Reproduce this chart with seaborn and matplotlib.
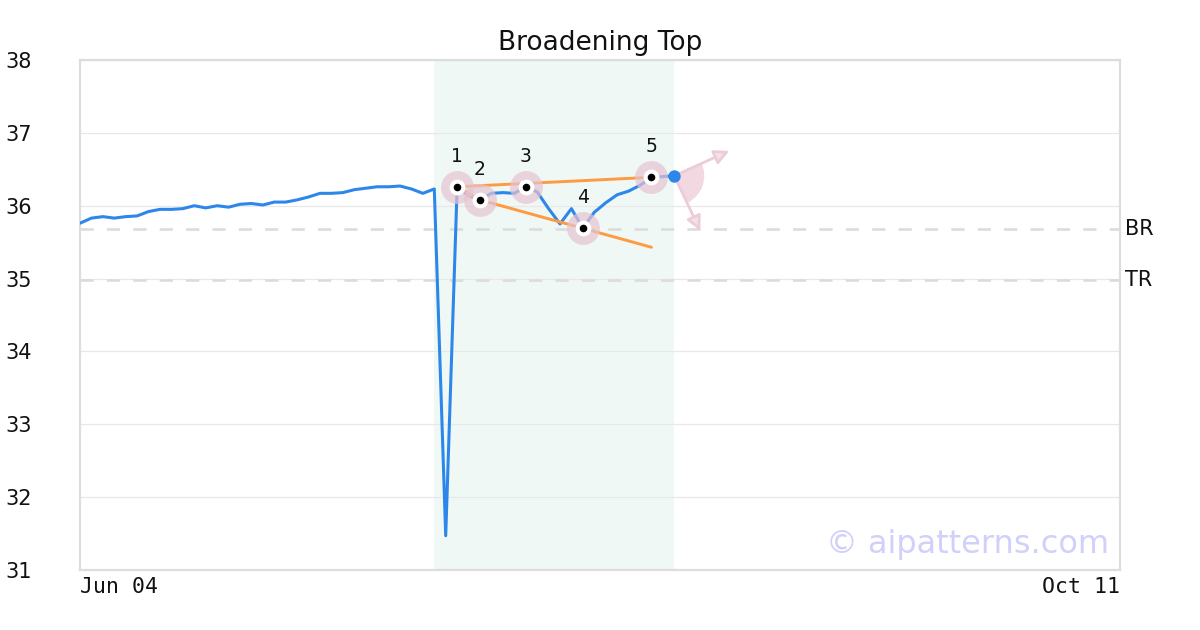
import numpy as np
import pandas as pd
import matplotlib
matplotlib.use("Agg")
import matplotlib.pyplot as plt
import matplotlib.transforms as mtransforms
from matplotlib.patches import Wedge
import seaborn as sns

# ---------------- data ----------------
title = "Broadening Top"
values = [35.76, 35.83, 35.85, 35.83, 35.85, 35.86, 35.92, 35.95, 35.95, 35.96,
          36.00, 35.97, 36.00, 35.98, 36.02, 36.03, 36.01, 36.05, 36.05, 36.08,
          36.12, 36.17, 36.17, 36.18, 36.22, 36.24, 36.26, 36.26, 36.27, 36.23,
          36.17, 36.23, 31.47, 36.26, 36.14, 36.08, 36.17, 36.18, 36.17, 36.26,
          36.19, 35.96, 35.75, 35.96, 35.69, 35.91, 36.04, 36.15, 36.20, 36.28,
          36.39, 36.40, 36.41]
x_tick_pos = [0, 91]
x_tick_labels = ["Jun 04", "Oct 11"]
y_ticks = [31, 32, 33, 34, 35, 36, 37, 38]
pattern_idx = [33, 35, 39, 44, 50]
pattern_labels = ["1", "2", "3", "4", "5"]
shade_start, shade_end = 31, 52
level_values = [35.68, 34.98]
level_labels = ["BR", "TR"]
watermark = "\u00a9 aipatterns.com"

BLUE = "#2d87ea"
ORANGE = "#fd9a42"

sns.set_style("white")
plt.rcParams['font.family'] = ['DejaVu Sans']

fig = plt.figure(figsize=(12, 6.3), dpi=100)
ax = fig.add_axes([80 / 1200, 60 / 630, 1040 / 1200, 510 / 630])

df = pd.DataFrame({"idx": np.arange(len(values)), "value": values})

# shaded pattern region
ax.axvspan(shade_start, shade_end, color="#eff8f5", zorder=0, lw=0)

# grid
ax.set_axisbelow(True)
ax.yaxis.grid(True, color="#e8e8e8", lw=0.9)
ax.xaxis.grid(False)

# level lines
for lv, lab in zip(level_values, level_labels):
    ax.axhline(lv, color="#dcdcdc", lw=1.9, dashes=(5, 5), zorder=1)
    ax.text(1.0048, lv, lab, transform=ax.get_yaxis_transform(), ha="left",
            va="center", fontsize=15, color="#111111")

# main line
sns.lineplot(data=df, x="idx", y="value", ax=ax, color=BLUE, lw=2.2, zorder=4)

# trend lines
i1, i2, i4, i5 = pattern_idx[0], pattern_idx[1], pattern_idx[3], pattern_idx[4]
ax.plot([i1, i5], [values[i1], values[i5]], color=ORANGE, lw=2.1, zorder=5)
slope = (values[i4] - values[i2]) / (i4 - i2)
ax.plot([i1, i2, i5], [values[i1], values[i2], values[i2] + slope * (i5 - i2)],
        color=ORANGE, lw=2.1, zorder=5)

# pattern points
px = [i for i in pattern_idx]
py = [values[i] for i in pattern_idx]
pts = pd.DataFrame({"x": px, "y": py})
sns.scatterplot(data=pts, x="x", y="y", ax=ax, s=560, color="#e6c3d0", alpha=0.7,
                linewidth=0, zorder=6, legend=False)
sns.scatterplot(data=pts, x="x", y="y", ax=ax, s=130, color="white",
                linewidth=0, zorder=7, legend=False)
sns.scatterplot(data=pts, x="x", y="y", ax=ax, s=30, color="black",
                linewidth=0, zorder=8, legend=False)
for xx, yy, lab in zip(px, py, pattern_labels):
    ax.annotate(lab, xy=(xx, yy), xytext=(0, 22), textcoords="offset points",
                ha="center", va="center", fontsize=13.5, color="#111111", zorder=9)

# last point
last_x = len(values) - 1
last_y = values[-1]
ax.scatter([last_x], [last_y], s=80, color=BLUE, zorder=8, linewidths=0)

# direction wedge + arrows
trans = fig.dpi_scale_trans + mtransforms.ScaledTranslation(last_x, last_y, ax.transData)
ax.add_patch(Wedge((0, 0), 0.30, -64.7, 24.4, transform=trans,
                   facecolor="#f0d4de", edgecolor="none", zorder=3, alpha=0.9))
for tip in [(0.55, 0.25), (0.26, -0.55)]:
    ax.annotate("", xy=tip, xycoords=trans, xytext=(0, 0), textcoords=trans,
                arrowprops=dict(arrowstyle="-|>", ec="#ecccd8", fc="#f4e0e7",
                                lw=2, mutation_scale=22, shrinkA=0, shrinkB=0),
                zorder=3)

# watermark
ax.text(0.990, 0.033, watermark, transform=ax.transAxes, ha="right",
        va="baseline", fontsize=23, color="#d0d0fa", zorder=2)

# axes styling
ax.set_xlim(0, 91)
ax.set_ylim(31, 38)
ax.set_xlabel("")
ax.set_ylabel("")
ax.set_yticks(y_ticks)
ax.set_yticklabels([str(v) for v in y_ticks])
ax.tick_params(axis="y", length=0, pad=53.5, labelsize=15, labelcolor="#111111")
for lab in ax.get_yticklabels():
    lab.set_horizontalalignment("left")
ax.set_xticks(x_tick_pos)
ax.set_xticklabels(x_tick_labels)
ax.tick_params(axis="x", length=0, pad=5, labelsize=15.5, labelcolor="#111111")
xl = ax.get_xticklabels()
for lab in xl:
    lab.set_fontfamily("DejaVu Sans Mono")
xl[0].set_horizontalalignment("left")
xl[-1].set_horizontalalignment("right")

for sp in ax.spines.values():
    sp.set_color("#dddddd")
    sp.set_linewidth(1.6)
    sp.set_visible(True)

ax.set_title(title, fontsize=19, pad=7, color="#111111")

fig.savefig("out.png", dpi=100)
